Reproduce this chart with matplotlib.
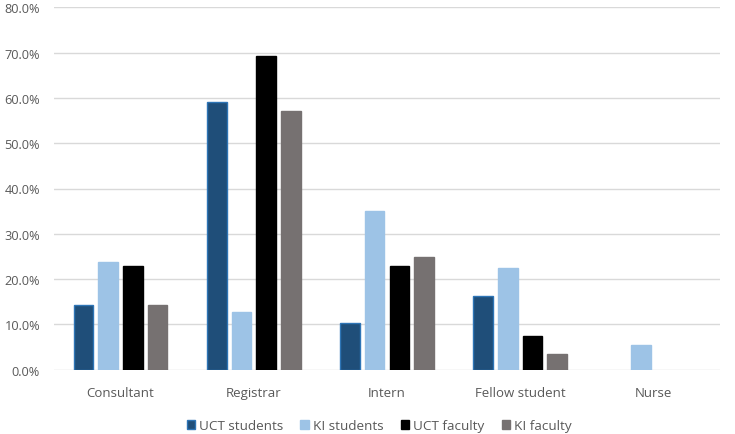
import matplotlib
matplotlib.use("Agg")
import matplotlib.pyplot as plt
import numpy as np
from matplotlib.ticker import FuncFormatter

categories = ["Consultant", "Registrar", "Intern", "Fellow student", "Nurse"]
series_names = ["UCT students", "KI students", "UCT faculty", "KI faculty"]
uct_students = [14.3, 59.2, 10.2, 16.3, 0.0]
ki_students = [23.8, 12.7, 35.1, 22.4, 5.5]
uct_faculty = [23.0, 69.2, 23.0, 7.5, 0.0]
ki_faculty = [14.2, 57.1, 24.9, 3.5, 0.0]

values = [uct_students, ki_students, uct_faculty, ki_faculty]
colors = ["#1F4E79", "#9DC3E6", "#000000", "#767171"]
edges = ["#2E75B6", "#9DC3E6", "#000000", "#767171"]

plt.rcParams['font.family'] = ['Open Sans', 'DejaVu Sans']
text_color = "#595959"

fig = plt.figure(figsize=(7.35, 4.35), dpi=100)
ax = fig.add_axes([54/735, 1 - 370.7/435, (720-54)/735, (370.7-8.3)/435])

x = np.arange(len(categories))
width = 0.147
step = 0.185
for i, (vals, c, ec) in enumerate(zip(values, colors, edges)):
    offs = (i - 1.5) * step
    lw = [1.0 if v > 0 else 0.0 for v in vals]
    ax.bar(x + offs, vals, width, color=c, edgecolor=ec, linewidth=lw,
           label=series_names[i], zorder=3)

ax.set_xlim(-0.5, len(categories) - 0.5)
ax.set_ylim(0, 80)
ax.set_yticks(np.arange(0, 81, 10))
ax.yaxis.set_major_formatter(FuncFormatter(lambda v, p: f"{v:.1f}%"))
ax.grid(axis='y', color='#D9D9D9', linewidth=1.0, zorder=0)
for s in ax.spines.values():
    s.set_visible(False)
ax.tick_params(axis='both', length=0, colors=text_color, labelsize=9.5)
ax.tick_params(axis='y', labelsize=9.2)
ax.tick_params(axis='x', pad=12)
ax.tick_params(axis='y', pad=10)
ax.set_xticks(x)
ax.set_xticklabels(categories)

handles, labels = ax.get_legend_handles_labels()
fig.legend(handles, labels, loc='center', bbox_to_anchor=(379/735, 1 - 427/435),
           ncol=4, frameon=False, fontsize=9.7, handlelength=0.6, handleheight=0.6,
           handletextpad=0.3, columnspacing=1.3, labelcolor=text_color,
           borderpad=0, borderaxespad=0)

fig.savefig("out.png", dpi=100)
